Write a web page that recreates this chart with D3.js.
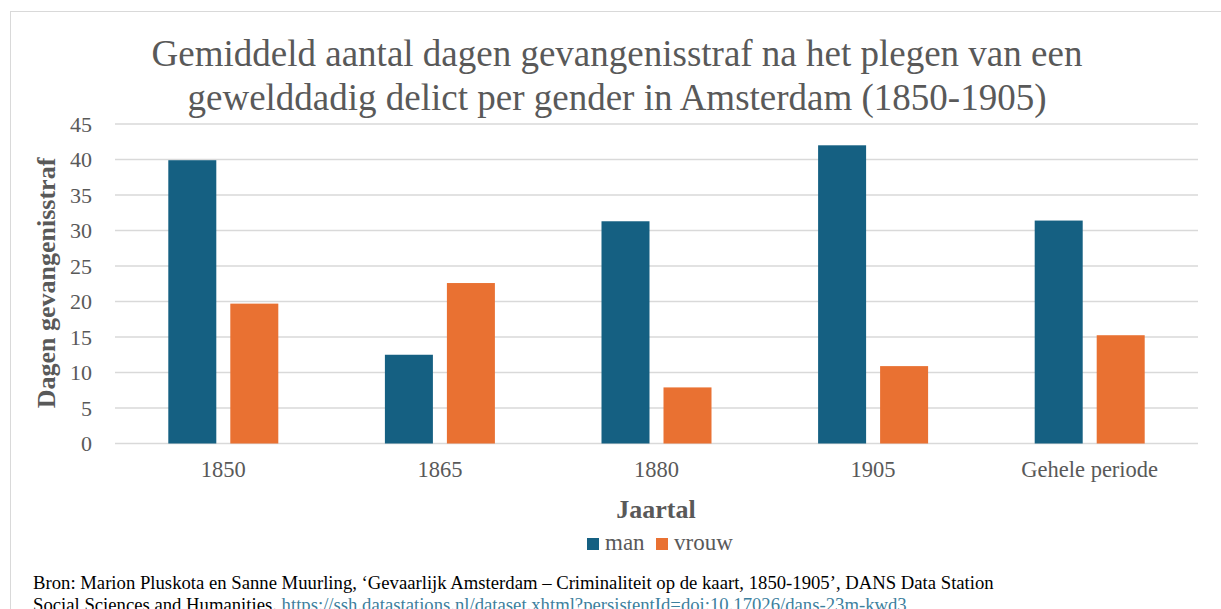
<!DOCTYPE html>
<html>
<head>
<meta charset="utf-8">
<script src="https://cdn.jsdelivr.net/npm/d3@7"></script>
<style>
  body { margin: 0; background: #fff; }
</style>
</head>
<body>
<div id="chart"></div>
<script>
// data
var categories = ['1850', '1865', '1880', '1905', 'Gehele periode'];
var series = ['man', 'vrouw'];
var manValues = [39.9, 12.5, 31.3, 42.0, 31.4];
var vrouwValues = [19.7, 22.6, 7.9, 10.9, 15.25];
var yTicks = [0, 5, 10, 15, 20, 25, 30, 35, 40, 45];

var colors = { man: '#156082', vrouw: '#e97132' };
var serif = '"Liberation Serif", "Times New Roman", serif';

var width = 1221, height = 609;
var margin = { top: 124, right: 23, bottom: 165.5, left: 115 };

var svg = d3.select('#chart').append('svg')
    .attr('width', width)
    .attr('height', height)
    .style('font-family', serif);

// chart frame
svg.append('rect')
    .attr('x', 10.5).attr('y', 11.5)
    .attr('width', 1230).attr('height', 620)
    .attr('fill', '#fff')
    .attr('stroke', '#d9d9d9')
    .attr('stroke-width', 1);

var data = categories.map(function (c, i) {
    return { cat: c, man: manValues[i], vrouw: vrouwValues[i] };
});

var x0 = d3.scaleBand()
    .domain(categories)
    .range([margin.left, width - margin.right]);

var groupW = 110;
var x1 = d3.scaleBand()
    .domain(series)
    .range([0, groupW])
    .paddingInner(14 / 62);

var y = d3.scaleLinear()
    .domain([0, 45])
    .range([height - margin.bottom, margin.top]);

// gridlines
svg.append('g')
    .selectAll('line')
    .data(yTicks)
    .enter().append('line')
    .attr('x1', margin.left)
    .attr('x2', width - margin.right)
    .attr('y1', function (d) { return y(d); })
    .attr('y2', function (d) { return y(d); })
    .attr('stroke', '#d9d9d9')
    .attr('stroke-width', 1.5);

// y tick labels
var yAxis = svg.append('g')
    .attr('transform', 'translate(' + (margin.left - 23) + ',0)')
    .call(d3.axisLeft(y).tickValues(yTicks).tickSize(0).tickPadding(0));
yAxis.select('.domain').remove();
yAxis.attr('font-family', null).attr('font-size', null);
yAxis.selectAll('text')
    .style('font-family', serif)
    .style('font-size', '22px')
    .attr('fill', '#595959');

// bars
var groups = svg.append('g')
    .selectAll('g')
    .data(data)
    .enter().append('g')
    .attr('transform', function (d) {
        return 'translate(' + (x0(d.cat) + (x0.bandwidth() - groupW) / 2) + ',0)';
    });

groups.selectAll('rect')
    .data(function (d) { return series.map(function (s) { return { key: s, value: d[s] }; }); })
    .enter().append('rect')
    .attr('x', function (d) { return x1(d.key); })
    .attr('y', function (d) { return y(d.value); })
    .attr('width', x1.bandwidth())
    .attr('height', function (d) { return y(0) - y(d.value); })
    .attr('fill', function (d) { return colors[d.key]; });

// x tick labels
var xAxis = svg.append('g')
    .attr('transform', 'translate(0,' + y(0) + ')')
    .call(d3.axisBottom(x0).tickSize(0).tickPadding(18));
xAxis.select('.domain').remove();
xAxis.attr('font-family', null).attr('font-size', null);
xAxis.selectAll('text')
    .style('font-family', serif)
    .style('font-size', '22.5px')
    .attr('fill', '#595959');

// title
var title = svg.append('text')
    .attr('text-anchor', 'middle')
    .attr('fill', '#595959')
    .style('font-family', serif)
    .style('font-size', '37px');
title.append('tspan').attr('x', 617).attr('y', 66)
    .text('Gemiddeld aantal dagen gevangenisstraf na het plegen van een');
title.append('tspan').attr('x', 617).attr('y', 110)
    .text('gewelddadig delict per gender in Amsterdam (1850-1905)');

// axis titles
svg.append('text')
    .attr('transform', 'translate(55,283) rotate(-90)')
    .attr('text-anchor', 'middle')
    .attr('fill', '#595959')
    .style('font-family', serif)
    .style('font-size', '26px')
    .style('font-weight', 'bold')
    .text('Dagen gevangenisstraf');

svg.append('text')
    .attr('x', 656).attr('y', 518)
    .attr('text-anchor', 'middle')
    .attr('fill', '#595959')
    .style('font-family', serif)
    .style('font-size', '26px')
    .style('font-weight', 'bold')
    .text('Jaartal');

// legend
var legend = svg.append('g').attr('transform', 'translate(587,538)');
var legX = [0, 69];
series.forEach(function (s, i) {
    legend.append('rect')
        .attr('x', legX[i]).attr('y', 0)
        .attr('width', 12).attr('height', 12)
        .attr('fill', colors[s]);
    legend.append('text')
        .attr('x', legX[i] + 18).attr('y', 12)
        .attr('fill', '#595959')
        .style('font-family', serif)
        .style('font-size', '23px')
        .text(s);
});

// source (second line is cut by the bottom edge, as in the original)
var src = svg.append('text')
    .attr('x', 33).attr('y', 589)
    .attr('fill', '#000')
    .style('font-family', serif)
    .style('font-size', '18.7px')
    .text('Bron: Marion Pluskota en Sanne Muurling, \u2018Gevaarlijk  Amsterdam  \u2013 Criminaliteit op de kaart, 1850-1905\u2019, DANS Data Station');
var line2 = svg.append('text')
    .attr('x', 33).attr('y', 611)
    .style('font-family', serif)
    .style('font-size', '18.7px');
line2.append('tspan').attr('fill', '#000').text('Social Sciences and Humanities. ');
line2.append('tspan').attr('fill', '#3d7f9e')
    .text('https://ssh.datastations.nl/dataset.xhtml?persistentId=doi:10.17026/dans-23m-kwd3');
</script>
</body>
</html>
